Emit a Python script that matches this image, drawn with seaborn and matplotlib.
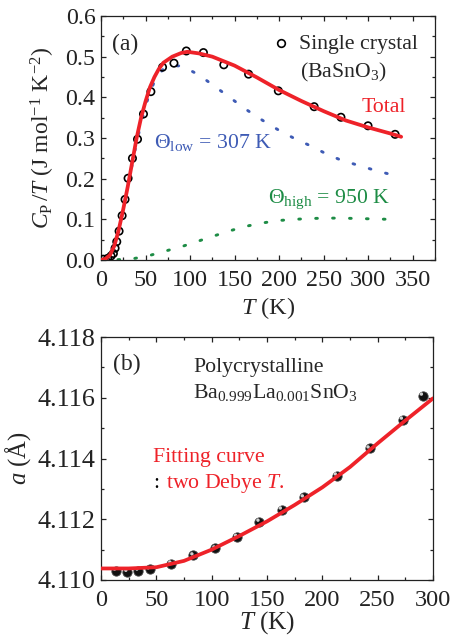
import numpy as np
import pandas as pd
import matplotlib
matplotlib.use("Agg")
import matplotlib.pyplot as plt
import matplotlib.transforms as mtransforms
import seaborn as sns
from matplotlib.ticker import MultipleLocator

# ---------------- data: panel (a) ----------------
exp_T = [2.6, 7.5, 11.3, 13.9, 15.8, 17.7, 20.3, 23.7, 27.0, 30.4, 35.3, 41.0,
         47.7, 56.0, 69.1, 81.9, 95.8, 115.0, 137.9, 165.7, 199.1, 239.3, 269.4,
         299.8, 330.2]
exp_CpT = [0.002, 0.004, 0.010, 0.016, 0.029, 0.045, 0.071, 0.109, 0.149, 0.201,
           0.250, 0.297, 0.359, 0.414, 0.474, 0.484, 0.514, 0.510, 0.480, 0.457,
           0.416, 0.377, 0.351, 0.330, 0.309]

total_T = [0, 5, 10, 15, 20, 25, 30, 35, 40, 45, 50, 55, 60, 65, 70, 80, 90, 97,
           110, 125, 150, 175, 200, 225, 250, 275, 300, 325, 337]
total_CpT = [0.0, 0.003, 0.012, 0.035, 0.075, 0.125, 0.18, 0.24, 0.30, 0.35, 0.39,
             0.425, 0.45, 0.47, 0.485, 0.50, 0.509, 0.512, 0.508, 0.50, 0.478,
             0.449, 0.418, 0.391, 0.366, 0.343, 0.326, 0.311, 0.303]

low_T = [0, 10, 20, 30, 40, 50, 60, 70, 80, 91, 110, 127, 145, 163, 181, 199, 217,
         236, 252, 269, 290, 307, 324]
low_CpT = [0.0, 0.01, 0.07, 0.18, 0.29, 0.38, 0.44, 0.47, 0.478, 0.477, 0.455,
           0.428, 0.399, 0.370, 0.344, 0.320, 0.299, 0.280, 0.262, 0.246, 0.232,
           0.221, 0.211]

high_T = [0, 20, 38, 56, 74, 92, 110, 128, 145, 163, 181, 199, 217, 235, 252, 270,
          288, 306, 325]
high_CpT = [0.0, 0.001, 0.004, 0.012, 0.023, 0.034, 0.047, 0.060, 0.072, 0.083,
            0.091, 0.097, 0.100, 0.102, 0.103, 0.103, 0.102, 0.101, 0.100]

# ---------------- data: panel (b) ----------------
lat_T = [13.6, 23.8, 33.8, 44.0, 63.6, 83.5, 103.4, 123.0, 143.2, 163.4, 183.3,
         213.1, 242.7, 272.8, 290.9]
lat_a = [4.11031, 4.11027, 4.11031, 4.11035, 4.11054, 4.11081, 4.11104, 4.11142,
         4.11192, 4.11232, 4.11272, 4.11344, 4.11433, 4.11528, 4.11607]

fit_T = [0, 25, 50, 75, 100, 125, 150, 175, 200, 225, 250, 275, 300]
fit_a = [4.11038, 4.11038, 4.11042, 4.11063, 4.11100, 4.11145, 4.11193, 4.11247,
         4.11305, 4.11372, 4.11450, 4.11525, 4.11598]

# ---------------- style ----------------
sns.set_theme(style="ticks")
plt.rcParams.update({
    "font.family": "serif",
    "font.serif": ["Liberation Serif"],
    "mathtext.fontset": "custom",
    "mathtext.rm": "Liberation Serif",
    "mathtext.it": "Liberation Serif:italic",
    "mathtext.bf": "Liberation Serif:bold",
    "axes.linewidth": 0.9,
    "axes.edgecolor": "#222222",
    "xtick.color": "#222222",
    "ytick.color": "#222222",
    "xtick.labelcolor": "#222222",
    "ytick.labelcolor": "#222222",
})

RED = "#EE2229"
BLUE = "#3E5BB5"
GREEN = "#1D8C45"
TXT = 15.7

fig = plt.figure(figsize=(4.53, 6.38), dpi=100)
ax1 = fig.add_axes([101/453, 1-260/638, 334/453, 244/638])
ax2 = fig.add_axes([101/453, 1-580/638, 332/453, 243/638])


def style_axis(ax, xs, ys):
    ax.tick_params(which="both", direction="in", top=True, right=True, width=0.9)
    ax.tick_params(which="major", length=3.8)
    ax.tick_params(which="minor", length=2.0)
    ax.tick_params(axis="x", which="major", labelsize=xs, pad=7)
    ax.tick_params(axis="y", which="major", labelsize=ys, pad=4)
    for s in ax.spines.values():
        s.set_visible(True)


# ---------------- panel (a) ----------------
df_tot = pd.DataFrame({"T": total_T, "v": total_CpT})
df_low = pd.DataFrame({"T": low_T, "v": low_CpT})
df_high = pd.DataFrame({"T": high_T, "v": high_CpT})
df_exp = pd.DataFrame({"T": exp_T, "v": exp_CpT})

dot_style = (0, (0.6, 5.2))
sns.lineplot(data=df_low, x="T", y="v", ax=ax1, sort=False, color=BLUE, lw=2.1,
             linestyle=dot_style, dash_capstyle="round", zorder=2)
sns.lineplot(data=df_high, x="T", y="v", ax=ax1, sort=False, color=GREEN, lw=2.1,
             linestyle=dot_style, dash_capstyle="round", zorder=2)
sns.scatterplot(data=df_exp, x="T", y="v", ax=ax1, marker="o", s=28,
                facecolor="none", edgecolor="black", linewidth=1.2, zorder=3)
sns.lineplot(data=df_tot, x="T", y="v", ax=ax1, sort=False, color=RED, lw=2.7,
             zorder=4)

ax1.set_xlim(0, 375)
ax1.set_ylim(0, 0.6)
ax1.set_xticks([0, 50, 100, 150, 200, 250, 300, 350])
ax1.set_xticklabels(["0", "50", "100", "150", "200", "250", "300", "350"])
ax1.xaxis.set_minor_locator(MultipleLocator(25))
ax1.set_yticks([0.0, 0.1, 0.2, 0.3, 0.4, 0.5, 0.6])
ax1.set_yticklabels(["0.0", "0.1", "0.2", "0.3", "0.4", "0.5", "0.6"])
ax1.yaxis.set_minor_locator(MultipleLocator(0.05))
style_axis(ax1, 17.4, 17.2)
ax1.set_xlabel(r"$T$ (K)", fontsize=17.5, labelpad=3)
ax1.set_ylabel(r"$C_{\mathrm{P}}\,/T$ (J mol$^{-1}$ K$^{-2}$)", fontsize=17,
               labelpad=6)

ax1.text(0.033, 0.861, "(a)", transform=ax1.transAxes, fontsize=17, va="baseline")
ax1.plot([0.539], [0.889], transform=ax1.transAxes, marker="o", ms=5.5,
         mfc="none", mec="black", mew=1.2, ls="none", clip_on=False)
ax1.text(0.593, 0.865, "Single crystal", transform=ax1.transAxes, fontsize=TXT,
         va="baseline")
ax1.text(0.596, 0.75, r"(BaSnO$_3$)", transform=ax1.transAxes, fontsize=TXT,
         va="baseline")
ax1.text(0.781, 0.607, "Total", transform=ax1.transAxes, fontsize=TXT,
         va="baseline", color=RED)
ax1.text(0.159, 0.459, r"Θ$_{\mathrm{low}}$ = 307 K", transform=ax1.transAxes,
         fontsize=TXT, va="baseline", color=BLUE)
ax1.text(0.5, 0.234, r"Θ$_{\mathrm{high}}$ = 950 K", transform=ax1.transAxes,
         fontsize=TXT, va="baseline", color=GREEN)

# ---------------- panel (b) ----------------
df_lat = pd.DataFrame({"T": lat_T, "a": lat_a})
df_fit = pd.DataFrame({"T": fit_T, "a": fit_a})

sns.scatterplot(data=df_lat, x="T", y="a", ax=ax2, marker="o", s=45,
                color="#111111", edgecolor="#444444", linewidth=0.6, zorder=3)
hl = mtransforms.ScaledTranslation(-1.1/72, 1.1/72, fig.dpi_scale_trans)
ax2.scatter(lat_T, lat_a, s=6, color="#d0d0d0", edgecolor="none", zorder=3.5,
            transform=ax2.transData + hl)
sns.lineplot(data=df_fit, x="T", y="a", ax=ax2, sort=False, color=RED, lw=2.7,
             zorder=4)

ax2.set_xlim(0, 300)
ax2.set_ylim(4.110, 4.118)
ax2.set_xticks([0, 50, 100, 150, 200, 250, 300])
ax2.set_xticklabels(["0", "50", "100", "150", "200", "250", "300"])
ax2.xaxis.set_minor_locator(MultipleLocator(25))
ax2.set_yticks([4.110, 4.112, 4.114, 4.116, 4.118])
ax2.set_yticklabels(["4.110", "4.112", "4.114", "4.116", "4.118"])
ax2.yaxis.set_minor_locator(MultipleLocator(0.001))
style_axis(ax2, 17.6, 18.8)
ax2.set_xlabel(r"$T$ (K)", fontsize=18.2, labelpad=-1)
ax2.set_ylabel(r"$a$ (Å)", fontsize=17.8, labelpad=3)

ax2.text(0.036, 0.864, "(b)", transform=ax2.transAxes, fontsize=17, va="baseline")
ax2.text(0.277, 0.856, "Polycrystalline", transform=ax2.transAxes, fontsize=TXT,
         va="baseline")
ax2.text(0.277, 0.749, r"Ba$_{0.999}$La$_{0.001}$SnO$_3$", transform=ax2.transAxes,
         fontsize=TXT, va="baseline")
ax2.text(0.157, 0.486, "Fitting curve", transform=ax2.transAxes, fontsize=TXT,
         va="baseline", color=RED)
ax2.text(0.157, 0.379, ":", transform=ax2.transAxes, fontsize=TXT,
         va="baseline", color="black")
ax2.text(0.196, 0.379, r"two Debye $T$.", transform=ax2.transAxes,
         fontsize=TXT, va="baseline", color=RED)

fig.savefig("out.png", dpi=100)
